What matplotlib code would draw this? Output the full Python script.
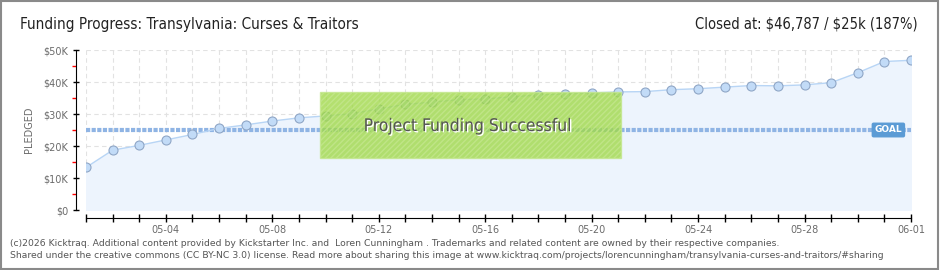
import matplotlib.pyplot as plt
import matplotlib.patheffects as pe
from matplotlib.patches import Rectangle
import numpy as np

# daily pledged totals, 05-01 .. 06-01
days = ['05-%02d' % d for d in range(1, 32)] + ['06-01']
pledged = [13300, 18700, 20200, 21900, 23600, 25500, 26600, 27800, 28800, 29400,
           30100, 31600, 33000, 33700, 34500, 34700, 35400, 35900, 36300, 36600,
           36900, 37000, 37600, 37900, 38400, 38900, 38800, 39100, 39800, 42900,
           46400, 46787]
goal = 25000
y_ticks = [0, 10000, 20000, 30000, 40000, 50000]
y_labels = ['$0', '$10K', '$20K', '$30K', '$40K', '$50K']

grey = '#6b6b6b'
plt.rcParams['hatch.color'] = '#96cc44'

fig = plt.figure(figsize=(9.4, 2.7), dpi=100)
ax = fig.add_axes([86/940, 1 - 210/270, 825/940, 160/270])
x = np.arange(len(days))

# area + line + markers
ax.fill_between(x, pledged, 0, color='#edf4fd', zorder=1)
ax.plot(x, pledged, color='#b8d5f5', lw=1, zorder=3)
ax.plot(x, pledged, 'o', ms=6.5, mfc='#c2dbf7', mec='#8fa6c6', mew=0.8, zorder=4)

# goal line
ax.plot([x[0], x[-1]], [goal, goal], color='#8fb4e4', lw=3,
        linestyle=(0, (1, 0.35)), zorder=2)
ax.text(30.15, goal, 'GOAL', color='white', fontsize=6.5, fontweight='bold',
        ha='center', va='center', zorder=6,
        bbox=dict(boxstyle='round,pad=0.25,rounding_size=0.15', fc='#5b9bd5', ec='#5b9bd5'))

# grid
for i in x:
    ax.axvline(i, color='#e2e2e2', lw=0.8, dashes=(4, 3), zorder=0.5)
for v in y_ticks:
    ax.axhline(v, color='#e2e2e2', lw=0.8, dashes=(4, 3), zorder=0.5)

# success banner
ax.add_patch(Rectangle((0.2836, 0.323), 0.3649, 0.413, transform=ax.transAxes,
                       fc='#9fd846', ec='#c4e78e', lw=1, hatch='//////',
                       alpha=0.78, zorder=5))
ax.text(0.463, 0.525, 'Project Funding Successful', transform=ax.transAxes,
        family='DejaVu Sans', stretch='condensed', fontsize=12.5, color='#555555',
        ha='center', va='center', zorder=7,
        path_effects=[pe.withSimplePatchShadow(offset=(1, -1), shadow_rgbFace='white', alpha=1)])

ax.set_xlim(0, 31)
ax.set_ylim(0, 50000)
for s in ['top', 'right']:
    ax.spines[s].set_visible(False)
ax.spines['left'].set_position(('outward', 7.2))
ax.spines['bottom'].set_position(('outward', 5.8))
ax.spines['left'].set_bounds(0, 50000)
ax.spines['bottom'].set_bounds(0, 31)

ax.set_yticks(y_ticks)
ax.set_yticklabels(y_labels)
ax.set_yticks([5000, 15000, 25000, 35000, 45000], minor=True)
ax.tick_params(axis='y', which='major', direction='inout', length=5, width=1,
               labelsize=7, labelcolor=grey, pad=3)
ax.tick_params(axis='y', which='minor', direction='out', length=3, width=1, color='red')

lab_idx = list(range(3, 32, 4))
ax.set_xticks(lab_idx)
ax.set_xticklabels([days[i] for i in lab_idx])
ax.set_xticks([i for i in x if i not in lab_idx], minor=True)
ax.tick_params(axis='x', which='both', direction='inout', length=6, width=1,
               labelsize=7, labelcolor=grey, pad=2)

ax.set_ylabel('PLEDGED', fontsize=7, color=grey, labelpad=7)

# header
fig.text(20/940, 1 - 24/270, 'Funding Progress: Transylvania: Curses & Traitors',
         family='DejaVu Sans', stretch='condensed', fontsize=11, color='#222222', va='center')
fig.text(918/940, 1 - 24/270, 'Closed at: \\$46,787 / \\$25k (187%)',
         family='DejaVu Sans', stretch='condensed', fontsize=10.5, color='#222222',
         va='center', ha='right')

# footer
fig.text(10/940, 1 - 243/270,
         '(c)2026 Kicktraq. Additional content provided by Kickstarter Inc. and  Loren Cunningham . '
         'Trademarks and related content are owned by their respective companies.',
         fontsize=6.7, color='#555555', va='center')
fig.text(10/940, 1 - 256/270,
         'Shared under the creative commons (CC BY-NC 3.0) license. Read more about sharing this image at '
         'www.kicktraq.com/projects/lorencunningham/transylvania-curses-and-traitors/#sharing',
         fontsize=6.7, color='#555555', va='center')

# frame
fig.patches.append(Rectangle((0.001, 0.002), 0.997, 0.995, transform=fig.transFigure,
                             fill=False, ec='#8a8a8a', lw=1.5))

fig.savefig('out.png', dpi=100)
